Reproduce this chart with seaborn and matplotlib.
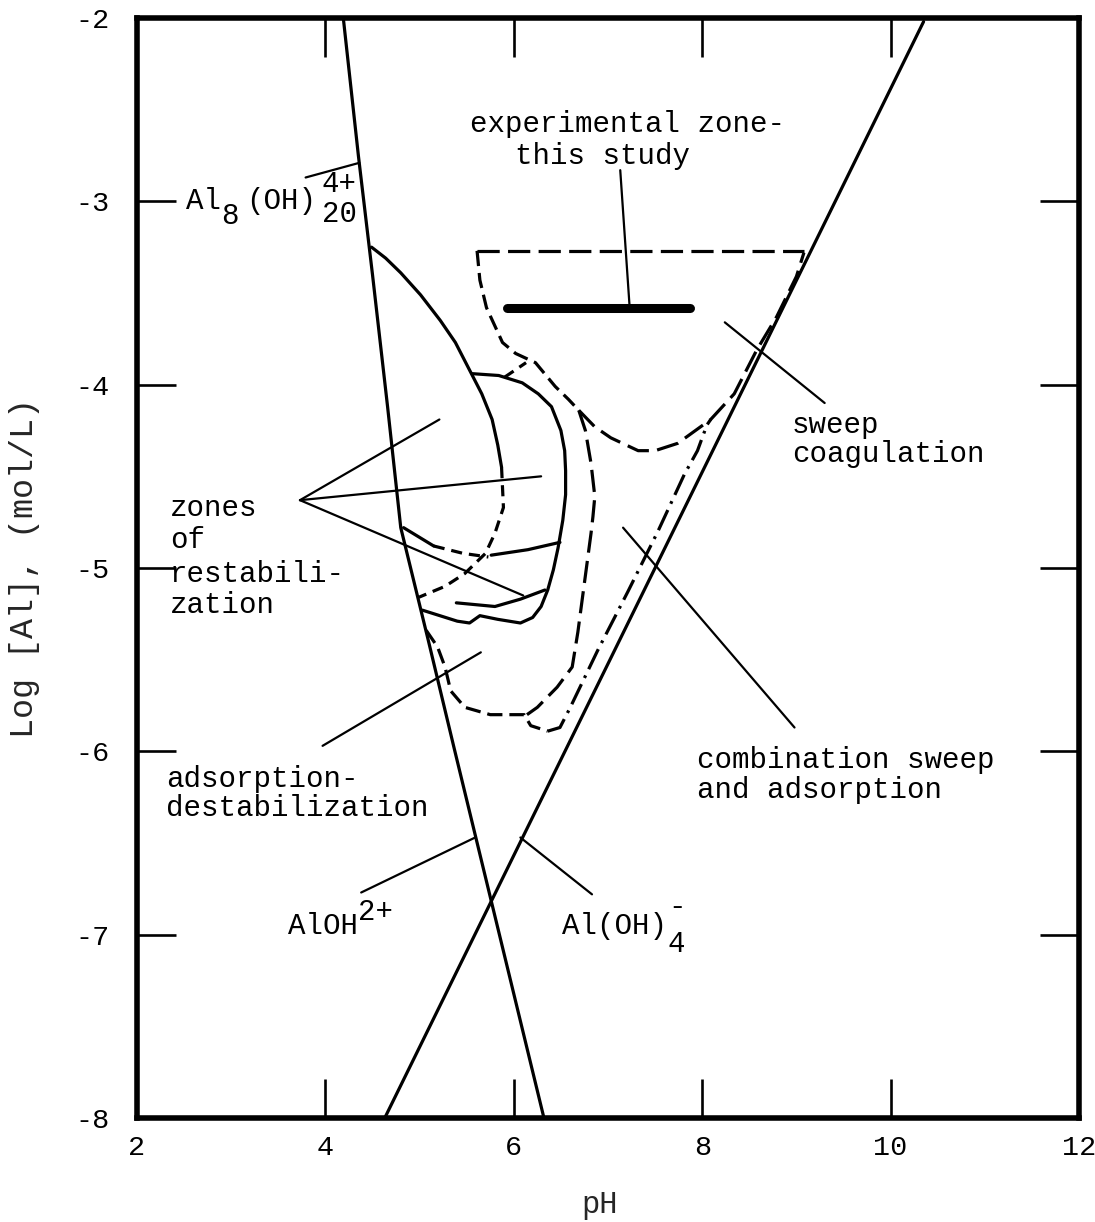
import numpy as np
import pandas as pd
import matplotlib
matplotlib.use("Agg")
import matplotlib.pyplot as plt
import seaborn as sns

# ---------------- data (pH, log[Al]) ----------------
left_ph = [4.19, 4.35, 4.50, 4.66, 4.80, 5.09, 5.37, 6.32]
left_log = [-2.00, -2.75, -3.40, -4.12, -4.78, -5.39, -5.99, -8.00]

right_ph = [4.63, 10.35]
right_log = [-8.00, -2.02]

outer_solid_ph = [4.49, 4.64, 4.80, 5.01, 5.22, 5.38, 5.53, 5.66, 5.77, 5.83, 5.87]
outer_solid_log = [-3.25, -3.31, -3.39, -3.51, -3.65, -3.77, -3.92, -4.05, -4.19,
                   -4.33, -4.45]
outer_dash_ph = [5.87, 5.89, 5.80, 5.70, 5.48, 5.27, 4.99]
outer_dash_log = [-4.45, -4.67, -4.81, -4.92, -5.03, -5.10, -5.16]

d_ph = [5.56, 5.84, 6.09, 6.26, 6.40, 6.50, 6.54, 6.55, 6.55, 6.52, 6.47, 6.42,
        6.36, 6.29, 6.20, 6.07, 5.83, 5.64, 5.53, 5.40, 5.03]
d_log = [-3.94, -3.95, -3.99, -4.05, -4.12, -4.25, -4.36, -4.47, -4.60, -4.74,
         -4.89, -5.01, -5.12, -5.21, -5.27, -5.30, -5.28, -5.26, -5.30, -5.29, -5.23]

arc2_ph = [5.39, 5.80, 6.07, 6.33]
arc2_log = [-5.19, -5.21, -5.17, -5.12]

mid_a_ph = [4.83, 4.99, 5.15]
mid_a_log = [-4.78, -4.83, -4.88]
mid_b_ph = [5.15, 5.46, 5.73]
mid_b_log = [-4.88, -4.92, -4.94]
mid_c_ph = [5.76, 6.15, 6.49]
mid_c_log = [-4.93, -4.90, -4.86]

conn_ph = [5.90, 6.13]
conn_log = [-3.96, -3.88]

sweep_top_ph = [5.61, 9.08]
sweep_top_log = [-3.27, -3.27]
sweep_left_ph = [5.61, 5.64, 5.71, 5.88, 6.02, 6.23, 6.44, 6.58, 6.69]
sweep_left_log = [-3.27, -3.43, -3.58, -3.77, -3.83, -3.88, -4.01, -4.08, -4.14]
bowl_ph = [6.69, 6.86, 7.03, 7.32, 7.50, 7.74, 8.09, 8.34, 8.58, 8.79, 9.00, 9.08]
bowl_log = [-4.14, -4.23, -4.29, -4.36, -4.36, -4.32, -4.19, -4.05, -3.81, -3.63,
            -3.41, -3.28]

inner_ph = [6.69, 6.76, 6.82, 6.86, 6.84, 6.82, 6.75, 6.68, 6.62, 6.46, 6.25, 6.14]
inner_log = [-4.14, -4.25, -4.43, -4.61, -4.72, -4.81, -5.08, -5.35, -5.54, -5.65,
             -5.76, -5.80]

bottom_ph = [5.07, 5.19, 5.27, 5.33, 5.48, 5.75, 6.11, 6.18, 6.36]
bottom_log = [-5.34, -5.43, -5.54, -5.67, -5.76, -5.80, -5.80, -5.86, -5.89]

dashdot_ph = [6.36, 6.49, 6.60, 6.89, 7.21, 7.53, 7.81, 7.95, 8.05, 8.09]
dashdot_log = [-5.89, -5.87, -5.76, -5.45, -5.13, -4.80, -4.49, -4.36, -4.22, -4.19]

exp_ph = [5.93, 7.87]
exp_log = [-3.58, -3.58]

# pointer lines (pH0, log0, pH1, log1)
pointers = [
    (3.79, -2.87, 4.36, -2.79),   # Al8(OH)20
    (4.38, -6.77, 5.59, -6.47),   # AlOH2+
    (6.07, -6.47, 6.83, -6.78),   # Al(OH)4-
    (3.73, -4.63, 5.21, -4.19),   # zones of restabilization
    (3.73, -4.63, 6.29, -4.50),
    (3.73, -4.63, 6.10, -5.15),
    (3.97, -5.97, 5.65, -5.46),   # adsorption-destabilization
    (8.24, -3.66, 9.30, -4.10),   # sweep coagulation
    (7.16, -4.78, 8.98, -5.87),   # combination
    (7.23, -3.58, 7.13, -2.83),   # experimental zone
]

x_ticks = [2, 4, 6, 8, 10, 12]
y_ticks = [-2, -3, -4, -5, -6, -7, -8]

labels = [
    (5.54, -2.58, "experimental zone-"),
    (6.01, -2.75, "this study"),
    (8.95, -4.22, "sweep"),
    (8.95, -4.38, "coagulation"),
    (2.35, -4.67, "zones"),
    (2.35, -4.85, "of"),
    (2.35, -5.03, "restabili-"),
    (2.35, -5.20, "zation"),
    (2.31, -6.15, "adsorption-"),
    (2.31, -6.31, "destabilization"),
    (7.95, -6.05, "combination sweep"),
    (7.95, -6.21, "and adsorption"),
]

# species labels: anchor (pH, log) and pieces (text, dx px, dy px downward)
species = [
    (2.52, -3.00, [("Al", 0, 0), ("8", 35, 15), ("(OH)", 60, 0),
                   ("4+", 136, -17), ("20", 136, 13)]),
    (3.60, -6.95, [("AlOH", 0, 0), ("2+", 70, -14)]),
    (6.51, -6.95, [("Al(OH)", 0, 0), ("-", 106, -19), ("4", 106, 19)]),
]

# ---------------- styling ----------------
sns.set_theme(style="white")
plt.rcParams["font.family"] = ["Liberation Mono", "DejaVu Sans Mono"]
plt.rcParams["axes.unicode_minus"] = False
plt.rcParams["lines.scale_dashes"] = False

fig = plt.figure(figsize=(10.95, 12.22), dpi=100)
ax = fig.add_axes([137 / 1095, 1 - 1118 / 1222, (1079 - 137) / 1095, (1118 - 18) / 1222])

LONG = (0, (16, 6))
MED = (0, (11, 5))
SHORT = (0, (8, 5))
DASHDOT = (0, (16, 5, 2, 5))


def draw(xs, ys, lw=2.3, ls="-"):
    df = pd.DataFrame({"pH": xs, "logAl": ys})
    sns.lineplot(data=df, x="pH", y="logAl", sort=False, estimator=None, ax=ax,
                 color="black", linewidth=lw, linestyle=ls,
                 solid_joinstyle="round", dash_joinstyle="round")


draw(left_ph, left_log)
draw(right_ph, right_log)
draw(outer_solid_ph, outer_solid_log)
draw(outer_dash_ph, outer_dash_log, ls=SHORT)
draw(d_ph, d_log)
draw(arc2_ph, arc2_log)
draw(mid_a_ph, mid_a_log)
draw(mid_b_ph, mid_b_log, ls=SHORT)
draw(mid_c_ph, mid_c_log)
draw(conn_ph, conn_log, ls=SHORT)
draw(sweep_top_ph, sweep_top_log, ls=LONG)
draw(sweep_left_ph, sweep_left_log, ls=MED)
draw(bowl_ph, bowl_log, ls=LONG)
draw(inner_ph, inner_log, ls=LONG)
draw(bottom_ph, bottom_log, ls=MED)
draw(dashdot_ph, dashdot_log, ls=DASHDOT)
draw(exp_ph, exp_log, lw=6.5)

for x0, y0, x1, y1 in pointers:
    draw([x0, x1], [y0, y1], lw=1.6)

FS = 21
for x, y, s in labels:
    ax.text(x, y, s, fontsize=FS, ha="left", va="center", color="black")

for x, y, pieces in species:
    for s, dx, dy in pieces:
        ax.annotate(s, xy=(x, y), xytext=(dx * 0.72, -dy * 0.72),
                    textcoords="offset points", fontsize=FS, ha="left",
                    va="center", color="black")

ax.set_xlim(2, 12)
ax.set_ylim(-8, -2)
ax.set_xticks(x_ticks)
ax.set_yticks(y_ticks)
ax.set_xticklabels([str(v) for v in x_ticks])
ax.set_yticklabels([str(v) for v in y_ticks])
ax.set_xlabel("")
ax.set_ylabel("")
ax.tick_params(axis="both", direction="in", length=28, width=1.9, colors="black",
               top=True, right=True, bottom=True, left=True, labelsize=20.5)
ax.tick_params(axis="x", pad=12)
ax.tick_params(axis="y", pad=20)
for sp in ax.spines.values():
    sp.set_visible(True)
    sp.set_linewidth(4)
    sp.set_color("black")

fig.text(600 / 1095, 1 - 1205 / 1222, "pH", fontsize=22, ha="center", va="center")
fig.text(25 / 1095, 1 - 568 / 1222, "Log [Al], (mol/L)", fontsize=24, rotation=90,
         ha="center", va="center")

fig.savefig("out.png", dpi=100, facecolor="white")
